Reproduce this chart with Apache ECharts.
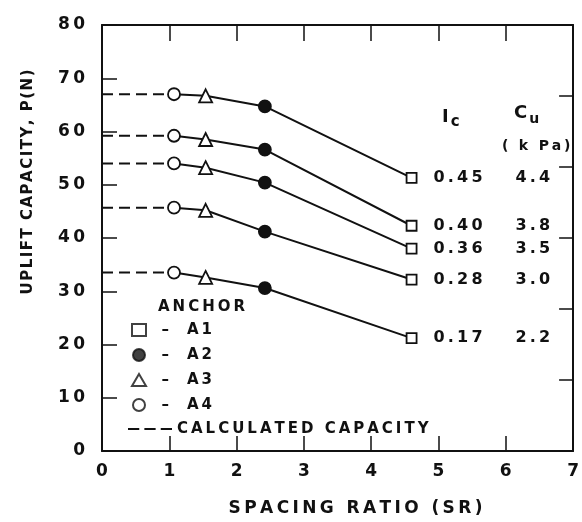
<!DOCTYPE html>
<html>
<head>
    <meta charset="UTF-8">
    <title>Uplift capacity vs spacing ratio</title>
    <script type="text/javascript" src="https://cdn.jsdelivr.net/npm/echarts@6/dist/echarts.min.js"></script>
</head>
<body style="margin: 0; background: #fff">
<div id="container" style="width: 582px; height: 522px"></div>
<script type="text/javascript">
    // spacing ratio of each anchor (A4, A3, A2, A1 from left to right)
    const anchors = ['A4', 'A3', 'A2', 'A1'];
    const spacing = [1.07, 1.54, 2.42, 4.6];
    // measured uplift capacity P (N), one row per soil consistency
    const capacity = [
        [67.0, 66.7, 64.7, 51.3],
        [59.2, 58.5, 56.6, 42.3],
        [54.0, 53.2, 50.4, 38.0],
        [45.7, 45.2, 41.2, 32.2],
        [33.5, 32.6, 30.6, 21.2]
    ];
    // calculated capacity (dashed lines)
    const calculated = [67.0, 59.2, 54.0, 45.7, 33.5];
    const ic = ['0.45', '0.40', '0.36', '0.28', '0.17'];
    const cu = ['4.4', '3.8', '3.5', '3.0', '2.2'];
    const xTicks = [0, 1, 2, 3, 4, 5, 6, 7];
    const yTicks = [0, 10, 20, 30, 40, 50, 60, 70, 80];

    const ink = '#111';
    const font = 'DejaVu Sans';
    const spaced = (s, gap) => String(s).split('').join(gap || '\u2009');

    const symbolOf = {
        A1: {symbol: 'rect', symbolSize: 10, fill: '#fff'},
        A2: {symbol: 'circle', symbolSize: 12, fill: ink},
        A3: {symbol: 'triangle', symbolSize: 13, fill: '#fff'},
        A4: {symbol: 'circle', symbolSize: 12, fill: '#fff'}
    };

    const series = [];
    capacity.forEach(function (row, i) {
        series.push({
            name: 'CALCULATED CAPACITY',
            type: 'line',
            symbol: 'none',
            silent: true,
            itemStyle: {color: ink},
            lineStyle: {color: ink, width: 2, type: [11, 6]},
            data: [[xTicks[0], calculated[i]], [spacing[0], calculated[i]]]
        });
        series.push({
            name: 'curve' + i,
            type: 'line',
            lineStyle: {color: ink, width: 2},
            z: 3,
            data: row.map(function (v, j) {
                const s = symbolOf[anchors[j]];
                const item = {
                    value: [spacing[j], v],
                    symbol: s.symbol,
                    symbolSize: s.symbolSize,
                    itemStyle: {color: s.fill, borderColor: ink, borderWidth: 1.8}
                };
                if (j === row.length - 1) {
                    item.label = {
                        show: true,
                        position: 'right',
                        distance: 16,
                        formatter: '{a|' + spaced(ic[i]) + '}{b|' + spaced(cu[i]) + '}',
                        rich: {
                            a: {width: 82, fontFamily: font, fontWeight: 'bold', fontSize: 16, color: ink},
                            b: {fontFamily: font, fontWeight: 'bold', fontSize: 16, color: ink}
                        }
                    };
                }
                return item;
            })
        });
    });
    ['A1', 'A2', 'A3', 'A4'].forEach(function (a) {
        const s = symbolOf[a];
        series.push({
            name: a,
            type: 'scatter',
            symbol: s.symbol,
            symbolSize: s.symbolSize,
            itemStyle: {color: s.fill, borderColor: ink, borderWidth: 1.8},
            data: []
        });
    });

    const textStyle = {fontFamily: font, fontWeight: 'bold', fontSize: 15, color: ink};
    const frame = {onZero: false, lineStyle: {color: ink, width: 2}};

    const option = {
        animation: false,
        backgroundColor: '#fff',
        grid: {left: 102, right: 1, top: 25, bottom: 71},
        xAxis: [{
            type: 'value',
            min: xTicks[0],
            max: xTicks[xTicks.length - 1],
            interval: 1,
            position: 'bottom',
            name: spaced('SPACING RATIO (SR)'),
            nameLocation: 'middle',
            nameGap: 49,
            nameTextStyle: {fontFamily: font, fontWeight: 'bold', fontSize: 17, color: ink,
                padding: [0, 0, 0, 36]},
            axisLine: frame,
            axisTick: {inside: true, length: 15, lineStyle: {color: ink, width: 1.5}},
            axisLabel: {margin: 12, fontFamily: font, fontWeight: 'bold', fontSize: 17, color: ink,
                formatter: v => spaced(v)},
            splitLine: {show: false}
        }, {
            type: 'value',
            min: xTicks[0],
            max: xTicks[xTicks.length - 1],
            interval: 1,
            position: 'top',
            axisLine: frame,
            axisTick: {inside: true, length: 16, lineStyle: {color: ink, width: 1.5}},
            axisLabel: {show: false},
            splitLine: {show: false}
        }],
        yAxis: [{
            type: 'value',
            min: yTicks[0],
            max: yTicks[yTicks.length - 1],
            interval: 10,
            position: 'left',
            axisLine: Object.assign({show: true}, frame),
            axisTick: {show: true, inside: true, length: 15, lineStyle: {color: ink, width: 1.5}},
            axisLabel: {margin: 17, fontFamily: font, fontWeight: 'bold', fontSize: 17, color: ink,
                formatter: v => spaced(v)},
            splitLine: {show: false}
        }, {
            type: 'value',
            min: 0,
            max: 6,
            interval: 1,
            position: 'right',
            axisLine: Object.assign({show: true}, frame),
            axisTick: {show: true, inside: true, length: 14, lineStyle: {color: ink, width: 1.5}},
            axisLabel: {show: false},
            splitLine: {show: false}
        }],
        legend: [{
            data: ['A1', 'A2', 'A3', 'A4'],
            orient: 'vertical',
            left: 131,
            top: 320,
            padding: 0,
            itemWidth: 14,
            itemHeight: 12,
            itemGap: 5,
            itemTextGap: 5,
            selectedMode: false,
            formatter: name => '\u2002\u2009\u2013\u2002\u2002\u2009' + spaced(name),
            textStyle: Object.assign({lineHeight: 20}, textStyle)
        }, {
            data: [{
                name: 'CALCULATED CAPACITY',
                icon: 'path://M0,0H11V2H0Z M16,0H27V2H16Z M32,0H43V2H32Z'
            }],
            left: 128,
            top: 419,
            padding: 0,
            itemWidth: 44,
            itemHeight: 12,
            itemTextGap: 5,
            selectedMode: false,
            formatter: name => spaced(name),
            textStyle: Object.assign({lineHeight: 20}, textStyle)
        }],
        graphic: [{
            type: 'text',
            left: 158,
            top: 300,
            style: {text: spaced('ANCHOR'), fill: ink, font: 'bold 15px ' + font}
        }, {
            type: 'text',
            x: 28,
            y: 182,
            rotation: Math.PI / 2,
            style: {text: spaced('UPLIFT CAPACITY, P(N)', '\u200A'), fill: ink, font: 'bold 15px ' + font,
                align: 'center', verticalAlign: 'middle'}
        }, {
            type: 'text',
            left: 442,
            top: 108,
            style: {
                text: '{i|I}{s|c}',
                rich: {
                    i: {font: 'bold 18px ' + font, fill: ink},
                    s: {font: 'bold 15px ' + font, fill: ink, padding: [10, 0, 0, 2]}
                }
            }
        }, {
            type: 'text',
            left: 514,
            top: 104,
            style: {
                text: '{c|C}{s|u}',
                rich: {
                    c: {font: 'bold 18px ' + font, fill: ink},
                    s: {font: 'bold 14px ' + font, fill: ink, padding: [12, 0, 0, 2]}
                }
            }
        }, {
            type: 'text',
            left: 502,
            top: 139,
            style: {text: spaced('( k Pa)'), fill: ink, font: 'bold 14px ' + font}
        }],
        series: series
    };

    const myChart = echarts.init(document.getElementById('container'));
    myChart.setOption(option);
</script>
</body>
</html>
